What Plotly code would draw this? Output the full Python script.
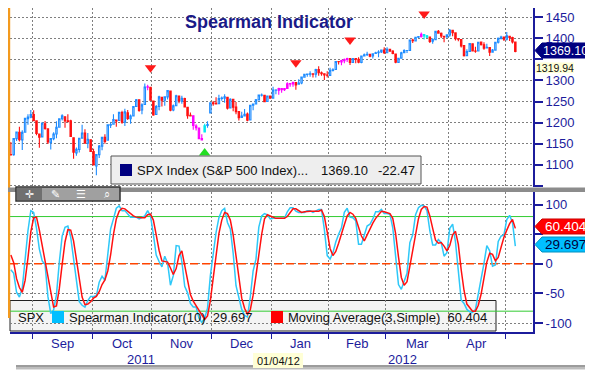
import plotly.graph_objects as go

# ---------------- data (trading-day index 0 = 22 Aug 2011 ... 177 = 4 May 2012) ----------------
closes = [1123.82, 1162.35, 1177.60, 1159.27, 1176.80, 1210.08, 1212.92, 1218.89,
          1204.42, 1173.97, 1165.24, 1198.62, 1185.90, 1154.23, 1162.27, 1172.87, 1188.68, 1209.11, 1216.01, 1204.09, 1202.09, 1166.76, 1129.56, 1136.43, 1162.95, 1175.38, 1151.06, 1160.40, 1131.42,
          1099.23, 1123.95, 1144.03, 1164.97, 1155.46, 1194.89, 1195.54, 1207.25, 1203.66, 1224.58, 1200.86, 1225.38, 1209.88, 1215.39, 1238.25, 1254.19, 1229.05, 1242.00, 1284.59, 1285.09, 1253.30,
          1218.28, 1237.90, 1261.15, 1253.23, 1261.12, 1275.92, 1229.10, 1239.69, 1263.85, 1251.78, 1257.81, 1236.91, 1216.13, 1215.65, 1192.98, 1188.04, 1161.79, 1158.67, 1192.55, 1195.19, 1246.96,
          1244.58, 1244.28, 1257.08, 1258.47, 1261.01, 1234.35, 1255.19, 1236.47, 1225.73, 1211.82, 1215.75, 1219.66, 1205.35, 1241.30, 1243.72, 1254.00, 1265.33, 1265.43, 1249.64, 1263.02, 1257.60,
          1277.06, 1277.30, 1281.06, 1277.81, 1280.70, 1292.08, 1292.48, 1295.50, 1289.09, 1293.67, 1308.04, 1314.50, 1315.38, 1316.00, 1314.65, 1326.06, 1318.43, 1316.33, 1313.01, 1312.41,
          1324.09, 1325.54, 1344.90, 1344.33, 1347.05, 1349.96, 1351.95, 1342.64, 1351.77, 1350.50, 1343.23, 1358.04, 1361.23, 1362.21, 1357.66, 1363.46, 1365.74, 1367.59, 1372.18, 1365.68,
          1374.09, 1369.63, 1364.33, 1343.36, 1352.63, 1365.91, 1370.87, 1371.09, 1395.95, 1394.28, 1402.60, 1404.17, 1409.75, 1405.52, 1402.89, 1392.78, 1397.11, 1416.51, 1412.52, 1405.54, 1403.28, 1408.47,
          1419.04, 1413.38, 1398.96, 1398.08, 1382.20, 1358.59, 1368.71, 1387.57, 1370.26, 1369.57, 1390.78, 1385.14, 1376.92, 1378.53, 1366.94, 1371.97, 1390.69, 1399.98, 1403.36, 1397.91,
          1405.82, 1402.31, 1391.57, 1369.10]

opens = [1124, 1124, 1162, 1177, 1159, 1177, 1209, 1213,
         1219, 1204, 1173, 1166, 1197, 1185, 1153, 1162, 1173, 1189, 1209, 1214, 1204, 1204, 1164, 1128, 1136, 1163, 1175, 1151, 1159,
         1131, 1097, 1124, 1144, 1165, 1158, 1194, 1196, 1206, 1205, 1224, 1201, 1223, 1209, 1216, 1238, 1254, 1230, 1243, 1284, 1284,
         1251, 1219, 1238, 1260, 1253, 1261, 1275, 1230, 1240, 1263, 1251, 1257, 1236, 1217, 1216, 1192, 1187, 1162, 1178, 1193, 1223,
         1247, 1246, 1245, 1257, 1258, 1260, 1235, 1255, 1237, 1226, 1212, 1216, 1220, 1206, 1241, 1244, 1254, 1265, 1265, 1250, 1263,
         1258, 1277, 1277, 1281, 1278, 1281, 1292, 1292, 1295, 1291, 1294, 1308, 1314, 1315, 1316, 1315, 1326, 1318, 1316, 1313,
         1312, 1324, 1326, 1345, 1344, 1347, 1350, 1352, 1343, 1352, 1350, 1343, 1358, 1361, 1362, 1358, 1364, 1366, 1368, 1372,
         1366, 1374, 1370, 1363, 1343, 1353, 1366, 1371, 1371, 1396, 1394, 1403, 1404, 1409, 1406, 1403, 1393, 1397, 1417, 1412, 1405, 1404,
         1408, 1419, 1413, 1399, 1397, 1383, 1359, 1369, 1387, 1370, 1370, 1391, 1385, 1377, 1378, 1367, 1372, 1391, 1400, 1403,
         1398, 1405, 1402, 1391]

highs = [1154, 1162, 1178, 1190, 1182, 1210, 1220, 1230,
         1229, 1204, 1173, 1198, 1204, 1186, 1163, 1177, 1203, 1209, 1220, 1214, 1220, 1207, 1164, 1141, 1163, 1195, 1184, 1175, 1159,
         1138, 1125, 1147, 1165, 1172, 1195, 1200, 1220, 1207, 1224, 1228, 1233, 1230, 1219, 1239, 1256, 1254, 1246, 1293, 1290, 1284,
         1251, 1242, 1264, 1260, 1262, 1277, 1275, 1243, 1266, 1264, 1264, 1259, 1237, 1224, 1216, 1196, 1187, 1172, 1197, 1203, 1247,
         1251, 1260, 1266, 1262, 1267, 1260, 1258, 1255, 1249, 1226, 1226, 1232, 1224, 1242, 1245, 1256, 1265, 1269, 1266, 1264, 1264,
         1285, 1279, 1283, 1282, 1282, 1296, 1294, 1297, 1295, 1303, 1309, 1316, 1316, 1322, 1316, 1328, 1334, 1321, 1316, 1322,
         1330, 1329, 1345, 1345, 1349, 1352, 1354, 1352, 1353, 1352, 1355, 1359, 1364, 1368, 1362, 1364, 1368, 1372, 1373, 1379,
         1379, 1374, 1372, 1363, 1354, 1368, 1374, 1372, 1396, 1399, 1403, 1405, 1414, 1409, 1408, 1403, 1400, 1417, 1420, 1414, 1405, 1410,
         1422, 1419, 1413, 1401, 1397, 1384, 1374, 1388, 1387, 1380, 1392, 1391, 1391, 1387, 1378, 1375, 1391, 1402, 1406, 1403,
         1415, 1405, 1404, 1391]

lows = [1121, 1121, 1156, 1155, 1135, 1177, 1195, 1210,
        1203, 1170, 1140, 1166, 1183, 1149, 1136, 1158, 1163, 1189, 1205, 1188, 1201, 1166, 1114, 1121, 1129, 1163, 1151, 1139, 1131,
        1099, 1075, 1116, 1134, 1150, 1158, 1187, 1196, 1190, 1205, 1197, 1192, 1206, 1197, 1216, 1238, 1226, 1220, 1243, 1277, 1253,
        1216, 1219, 1229, 1238, 1240, 1255, 1227, 1227, 1240, 1246, 1245, 1236, 1209, 1215, 1183, 1181, 1161, 1159, 1178, 1188, 1223,
        1240, 1243, 1245, 1252, 1247, 1231, 1235, 1227, 1220, 1205, 1212, 1216, 1203, 1206, 1229, 1244, 1254, 1262, 1248, 1250, 1257,
        1258, 1267, 1266, 1271, 1275, 1281, 1285, 1285, 1278, 1291, 1291, 1308, 1309, 1309, 1307, 1307, 1311, 1311, 1301, 1307,
        1312, 1321, 1326, 1338, 1336, 1341, 1344, 1337, 1343, 1341, 1341, 1341, 1357, 1358, 1355, 1352, 1363, 1355, 1365, 1363,
        1366, 1368, 1362, 1341, 1343, 1353, 1366, 1365, 1371, 1389, 1394, 1401, 1402, 1397, 1401, 1389, 1387, 1397, 1412, 1401, 1391, 1400,
        1404, 1405, 1395, 1393, 1378, 1357, 1359, 1369, 1369, 1366, 1370, 1383, 1373, 1377, 1358, 1366, 1372, 1388, 1397, 1394,
        1395, 1394, 1388, 1367]

spearman = [-10, -16, -48, -56, -41, 14, 56, 90, 87, 60, 25, 5, -1, -55, -84, -78, -52, 3,
            47, 62, 64, 45, 9, -33, -64, -70, -73, -62, -55, -55, -54, -31, -21, -28, 15, 59,
            76, 94, 98, 90, 90, 85, 79, 79, 79, 76, 78, 81, 90, 81, 50, 15, 4, -5,
            13, 1, -36, -20, 31, 30, 4, -38, -49, -67, -73, -73, -92, -99, -92, -75, -20, 22,
            53, 78, 90, 94, 70, 59, 18, -37, -60, -77, -87, -90, -56, -12, 8, 62, 81, 85,
            83, 76, 77, 77, 77, 76, 77, 88, 95, 95, 89, 87, 87, 87, 90, 90, 87, 90,
            92, 92, 58, 14, 8, 19, 37, 50, 61, 87, 94, 79, 78, 73, 33, 33, 50, 64,
            67, 76, 88, 88, 92, 85, 85, 84, 61, 8, -35, -43, -31, -16, 36, 49, 83, 95,
            99, 98, 90, 56, 32, 32, 41, 36, 13, 19, 60, 67, 37, -7, -61, -67, -77, -81,
            -82, -77, -52, -24, 1, 31, 22, -4, -2, 38, 47, 49, 75, 82, 70, 30]

moving_avg = [15, 2, -25, -40, -48, -28, 10, 54, 78, 79, 57, 30, 10, -17, -47, -73, -71, -42,
              -1, 37, 58, 57, 39, 7, -29, -56, -69, -68, -64, -58, -55, -47, -35, -27, -12, 15,
              50, 76, 89, 94, 93, 89, 85, 81, 79, 78, 78, 78, 83, 84, 74, 49, 23, 5,
              4, 3, -7, -18, -8, 14, 22, -1, -28, -52, -63, -71, -79, -88, -94, -88, -62, -24,
              18, 51, 74, 87, 85, 74, 49, 13, -26, -58, -75, -85, -78, -53, -20, 20, 50, 76,
              83, 81, 79, 77, 77, 77, 77, 80, 87, 93, 93, 90, 87, 88, 89, 89, 89, 89,
              89, 91, 80, 54, 26, 14, 21, 35, 49, 66, 81, 87, 84, 77, 62, 47, 39, 49,
              60, 69, 77, 84, 89, 88, 87, 85, 77, 51, 12, -23, -36, -30, -4, 23, 56, 76,
              92, 97, 96, 81, 60, 40, 35, 36, 30, 22, 31, 49, 55, 33, -10, -45, -68, -75,
              -80, -80, -70, -51, -25, 3, 18, 16, 5, 11, 28, 45, 57, 68, 75, 60]

spearman_last = 29.697
moving_avg_last = 60.404
crosshair_price = "1319.94"
crosshair_date = "01/04/12"

# highlighted (signal) bars and signal arrows
magenta_bars = [48, 64, 65, 66, 67, 94, 95, 96, 97, 98, 99, 116, 117, 118, 144]
cyan_bars = [68, 145, 146]
sell_signal_idx = [49, 100, 119, 145]
sell_signal_px = [1330, 1342, 1396, 1458]
buy_signal_idx = [68]
buy_signal_px = [1128]

month_labels = ["Sep", "Oct", "Nov", "Dec", "Jan", "Feb", "Mar", "Apr"]
month_bounds = [7.5, 28.5, 49.5, 70.5, 91.5, 111.5, 131.5, 153.5, 173.5]
year_labels = ["2011", "2012"]
year_spans = [(-0.3, 91.5), (91.5, 183.2)]
price_ticks = [1050, 1100, 1150, 1200, 1250, 1300, 1350, 1400, 1450]
price_ticktext = ["", "1100", "1150", "1200", "1250", "1300", "", "1400", "1450"]
osc_ticks = [-100, -50, 0, 50, 100]
osc_ticktext = ["-100", "-50", "0", "", "100"]
osc_levels = [80, -80]
zero_level = [0]

# ---------------- styling helpers ----------------
W, H = 593, 370
NAVY = "#1c1c9c"
BLUE = "#1e8cff"
RED = "#ff1010"
CYAN = "#2ec8f8"
GRID = "#7f7f7f"
FONT = "Liberation Sans, Arial, sans-serif"


def fx(x):
    return x / W


def fy(y):
    return 1 - y / H


def ppath(points):
    return "M " + " L ".join("%.5f,%.5f" % (fx(a), fy(b)) for a, b in points) + " Z"


x_idx = list(range(len(closes)))
x_range = [-0.3, 183.2]


def pick(vals, keep):
    return [v if i in keep else None for i, v in enumerate(vals)]


hl = set(magenta_bars) | set(cyan_bars)
normal = set(x_idx) - hl

fig = go.Figure()


def add_candles(keep, inc_line, inc_fill, dec_line, dec_fill):
    fig.add_trace(go.Candlestick(
        x=x_idx, open=pick(opens, keep), high=pick(highs, keep), low=pick(lows, keep), close=pick(closes, keep),
        increasing=dict(line=dict(color=inc_line, width=1.1), fillcolor=inc_fill),
        decreasing=dict(line=dict(color=dec_line, width=1.1), fillcolor=dec_fill),
        whiskerwidth=0, xaxis="x", yaxis="y", showlegend=False, hoverinfo="skip"))


add_candles(normal, BLUE, "white", RED, RED)
add_candles(set(magenta_bars), "#ff00ff", "#ff00ff", "#ff00ff", "#ff00ff")
add_candles(set(cyan_bars), "#00e8f0", "#00e8f0", "#00e8f0", "#00e8f0")

fig.add_trace(go.Scatter(x=sell_signal_idx, y=sell_signal_px, mode="markers", xaxis="x", yaxis="y",
                         marker=dict(symbol="triangle-down", size=10, color="#ff1a1a"),
                         showlegend=False, hoverinfo="skip"))
fig.add_trace(go.Scatter(x=buy_signal_idx, y=buy_signal_px, mode="markers", xaxis="x", yaxis="y",
                         marker=dict(symbol="triangle-up", size=10, color="#22dd22"),
                         showlegend=False, hoverinfo="skip"))

# reference levels (drawn first, beneath the indicator lines)
for lv in osc_levels:
    fig.add_trace(go.Scatter(x=x_range, y=[lv, lv], mode="lines", xaxis="x2", yaxis="y2",
                             line=dict(color="#33cc33", width=1), showlegend=False, hoverinfo="skip"))
for lv in zero_level:
    fig.add_trace(go.Scatter(x=x_range, y=[lv, lv], mode="lines", xaxis="x2", yaxis="y2",
                             line=dict(color="#ff4400", width=1.5, dash="8px,4px"), showlegend=False, hoverinfo="skip"))

fig.add_trace(go.Scatter(x=x_idx, y=spearman, mode="lines", xaxis="x2", yaxis="y2",
                         line=dict(color=CYAN, width=1.5), showlegend=False, hoverinfo="skip"))
fig.add_trace(go.Scatter(x=x_idx, y=moving_avg, mode="lines", xaxis="x2", yaxis="y2",
                         line=dict(color=RED, width=1.5), showlegend=False, hoverinfo="skip"))

xdom = [fx(2), fx(525)]
common_x = dict(domain=xdom, range=x_range, tickvals=month_bounds, showticklabels=False,
                showgrid=True, gridcolor=GRID, griddash="2px,2px", gridwidth=1, zeroline=False)
axis_font = dict(family=FONT, size=13, color=NAVY)

fig.update_layout(
    width=W, height=H, margin=dict(l=0, r=0, t=0, b=0), autosize=False,
    paper_bgcolor="white", plot_bgcolor="rgba(0,0,0,0)", hovermode=False,
    xaxis=dict(**common_x, anchor="y", ticks="", showline=False, rangeslider=dict(visible=False)),
    xaxis2=dict(**common_x, anchor="y2", ticks="outside", ticklen=5, tickwidth=1, tickcolor=NAVY,
                showline=True, linecolor=NAVY, linewidth=2),
    yaxis=dict(domain=[fy(179), 1], range=[1047.0, 1472.1], side="right", anchor="x",
               tickvals=price_ticks, ticktext=price_ticktext, ticks="outside", ticklen=8, tickwidth=2,
               tickcolor=NAVY, showline=True, linecolor=NAVY, linewidth=2, tickfont=axis_font,
               showgrid=True, gridcolor=GRID, griddash="2px,2px", zeroline=False),
    yaxis2=dict(domain=[fy(324), fy(184)], range=[-115.2, 121.5], side="right", anchor="x2",
                tickvals=osc_ticks, ticktext=osc_ticktext, ticks="outside", ticklen=8, tickwidth=2,
                tickcolor=NAVY, showline=True, linecolor=NAVY, linewidth=2, tickfont=axis_font,
                showgrid=True, gridcolor=GRID, griddash="2px,2px", zeroline=False),
)

shapes = []


def rect(x0, x1, y0, y1, fill, line_color=None, lw=0, layer="above"):
    shapes.append(dict(type="rect", xref="paper", yref="paper", x0=fx(x0), x1=fx(x1), y0=fy(y1), y1=fy(y0),
                       fillcolor=fill, line=dict(color=line_color or fill, width=lw), layer=layer))


# lower legend box (beneath the lines)
rect(2, 488, 292.5, 323, "#f4f4f4", "#222222", 1, layer="below")
# frame decorations
rect(0, 2.2, 0, 310, "#f39a1e")
rect(0, 581, 179.5, 184, "#8c8c8c")
for (a, b, c) in [(581, 583, "#9c9c9c"), (583, 585.5, "#bdbdbd"), (585.5, 589, "#e0e0e0")]:
    rect(a, b, 8, 364, c)
for (a, b, c) in [(357, 359, "#9c9c9c"), (359, 361.5, "#bdbdbd"), (361.5, 365, "#e0e0e0")]:
    rect(8, 585, a, b, c)
# upper legend box
rect(103, 413, 148, 176, "#eeeeee", "#555555", 1)
rect(112, 124, 156, 168, "#000080")
# lower legend colour keys
rect(44, 56, 303, 315, "#00bfff")
rect(263, 275, 303, 315, "#ff0000")
# toolbar
rect(8, 112, 179, 193, "#a0a0a0", "#333333", 1.5)
rect(8.8, 34, 179.8, 192.2, "#707070")
# value flags on the right axis
shapes.append(dict(type="path", xref="paper", yref="paper",
                   path=ppath([(527, 42.5), (534, 35), (582, 35), (582, 50), (534, 50)]),
                   fillcolor="#000080", line=dict(color="#000080", width=1), layer="above"))
rect(527, 566, 54.5, 65, "#ffffd6")
shapes.append(dict(type="path", xref="paper", yref="paper",
                   path=ppath([(527, 218.5), (534, 211), (581, 211), (581, 226), (534, 226)]),
                   fillcolor="#ff0000", line=dict(color="#cc0000", width=1), layer="above"))
shapes.append(dict(type="path", xref="paper", yref="paper",
                   path=ppath([(527, 236.5), (534, 229), (581, 229), (581, 244), (534, 244)]),
                   fillcolor="#00bfff", line=dict(color="#0090c0", width=1), layer="above"))
rect(245, 295, 345, 360, "#ffffd6")
fig.update_layout(shapes=shapes)

ann = []


def text(x, y, s, size=13, color=NAVY, anchor="center", bold=False, xref="paper", family=FONT):
    ann.append(dict(x=x if xref != "paper" else fx(x), y=fy(y), xref=xref, yref="paper", text=s, showarrow=False,
                    xanchor=anchor, yanchor="middle",
                    font=dict(family=family, size=size, color=color, weight="bold" if bold else "normal")))


text(261, 14, "Spearman Indicator", size=18, color="#1a1a88", bold=True)
for i, m in enumerate(month_labels):
    text((month_bounds[i] + month_bounds[i + 1]) / 2, 335, m, xref="x2")
for (a, b), yl in zip(year_spans, year_labels):
    text((a + b) / 2, 351, yl, xref="x2")
chg = closes[-1] - closes[-2]
text(127, 162.5, "SPX Index (S&amp;P 500 Index)...", size=13, color="#111111", anchor="left")
text(311, 162.5, "%.2f" % closes[-1], size=13, color="#111111", anchor="left")
text(368, 162.5, "%.2f" % chg, size=13, color="#111111", anchor="left")
text(8, 309, "SPX", size=13, color="#111111", anchor="left")
text(59, 309, "Spearman Indicator(10)  %.3f" % spearman_last, size=13, color="#111111", anchor="left")
text(278, 309, "Moving Average(3,Simple)  %.3f" % moving_avg_last, size=13, color="#111111", anchor="left")
text(557, 42.5, "%.2f" % closes[-1], size=12.5, color="white")
text(546.5, 59.8, crosshair_price, size=10.5, color="#111111")
text(557.5, 218.5, "%.3f" % moving_avg_last, size=13.5, color="white")
text(557.5, 236.5, "%.3f" % spearman_last, size=13.5, color="#00003c")
text(270, 352.5, crosshair_date, size=11, color="#111111")
for xi, ic in zip([21, 47, 73, 99], ["\u271b", "\u270e", "\u2630", "\u2315"]):
    text(xi, 186, ic, size=11, color="white", family="DejaVu Sans")
fig.update_layout(annotations=ann)

fig.write_html("out.html")
